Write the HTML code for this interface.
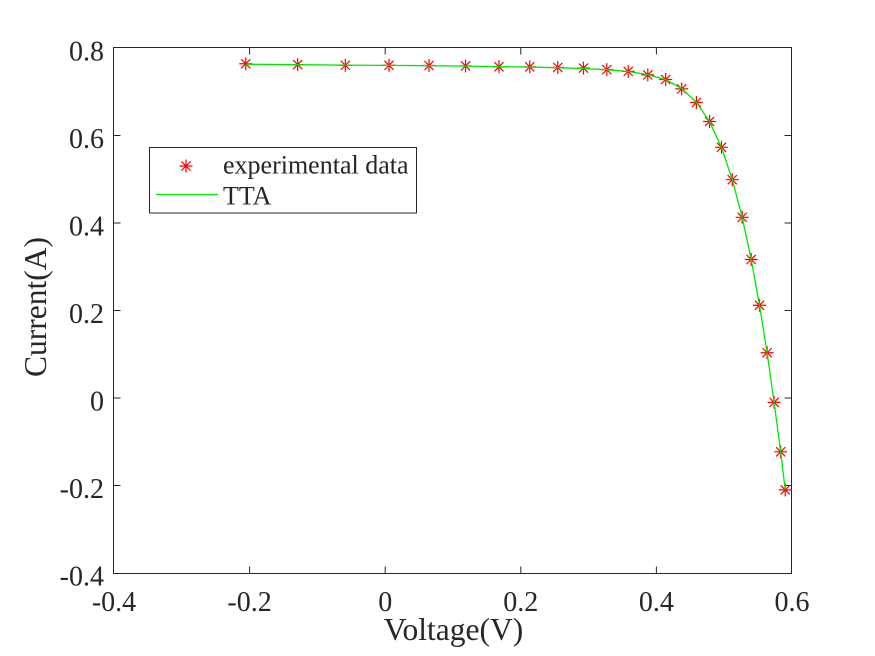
<!DOCTYPE html>
<html>
<head>
<meta charset="utf-8">
<style>
html,body{margin:0;padding:0;background:#fff;}
svg{display:block;}
svg text{fill:#262626;}
.t{font-family:"Liberation Serif","DejaVu Serif",serif;}
</style>
</head>
<body>
<svg width="875" height="656" viewBox="0 0 875 656" xmlns="http://www.w3.org/2000/svg">
<defs>
<g id="m" stroke="#ff0000" stroke-width="1.2" fill="none">
<path d="M-6.5,0H6.5M0,-6.5V6.5M-4.6,-4.6L4.6,4.6M-4.6,4.6L4.6,-4.6"/>
</g>
</defs>
<rect x="0" y="0" width="875" height="656" fill="#fff"/>
<rect x="113.5" y="47.5" width="678" height="526" fill="#fff" stroke="#262626" stroke-width="1"/>
<g stroke="#262626" stroke-width="1">
<path d="M249.6,573.5V566.5M385.2,573.5V566.5M520.8,573.5V566.5M656.4,573.5V566.5"/>
<path d="M249.6,47.5V54.5M385.2,47.5V54.5M520.8,47.5V54.5M656.4,47.5V54.5"/>
<path d="M113.5,135.5H120.5M113.5,223H120.5M113.5,310.5H120.5M113.5,398H120.5M113.5,485.5H120.5"/>
<path d="M791.5,135.5H784.5M791.5,223H784.5M791.5,310.5H784.5M791.5,398H784.5M791.5,485.5H784.5"/>
</g>
<g class="t" font-size="28" text-anchor="middle">
<text x="114" y="611">-0.4</text>
<text x="249.6" y="611">-0.2</text>
<text x="385.2" y="611">0</text>
<text x="520.8" y="611">0.2</text>
<text x="656.4" y="611">0.4</text>
<text x="792" y="611">0.6</text>
</g>
<g class="t" font-size="28" text-anchor="end">
<text x="104" y="60.5">0.8</text>
<text x="104" y="148">0.6</text>
<text x="104" y="235.5">0.4</text>
<text x="104" y="323">0.2</text>
<text x="104" y="410.5">0</text>
<text x="104" y="498">-0.2</text>
<text x="104" y="585.5">-0.4</text>
</g>
<text class="t" x="453.5" y="640" font-size="31.5" text-anchor="middle">Voltage(V)</text>
<text class="t" transform="translate(46,307) rotate(-90)" font-size="31.5" text-anchor="middle">Current(A)</text>
<use href="#m" x="245.74" y="63.75"/>
<use href="#m" x="297.67" y="64.63"/>
<use href="#m" x="345.33" y="65.28"/>
<use href="#m" x="389.06" y="65.28"/>
<use href="#m" x="429.00" y="65.5"/>
<use href="#m" x="465.54" y="65.94"/>
<use href="#m" x="498.97" y="66.81"/>
<use href="#m" x="529.75" y="66.81"/>
<use href="#m" x="557.75" y="67.47"/>
<use href="#m" x="583.45" y="68.13"/>
<use href="#m" x="606.84" y="69.66"/>
<use href="#m" x="628.26" y="71.41"/>
<use href="#m" x="647.79" y="74.91"/>
<use href="#m" x="665.69" y="79.5"/>
<use href="#m" x="681.69" y="88.91"/>
<use href="#m" x="696.40" y="102.47"/>
<use href="#m" x="709.56" y="121.5"/>
<use href="#m" x="721.49" y="147.31"/>
<use href="#m" x="732.27" y="179.69"/>
<use href="#m" x="742.17" y="217.31"/>
<use href="#m" x="751.18" y="259.53"/>
<use href="#m" x="759.52" y="305.25"/>
<use href="#m" x="767.12" y="352.72"/>
<use href="#m" x="774.10" y="402.38"/>
<use href="#m" x="780.68" y="451.81"/>
<use href="#m" x="785.22" y="489.88"/>
<polyline fill="none" stroke="#00e600" stroke-width="1.3" stroke-linejoin="round"
points="245.74,64.2 297.67,64.7 345.33,65.1 389.06,65.4 429.00,65.7 465.54,66.1 498.97,66.6 529.75,67.1 557.75,67.7 583.45,68.5 606.84,69.7 628.26,71.5 647.79,74.6 665.69,79.6 681.69,88.5 696.40,102.3 709.56,121.6 721.49,147.4 732.27,179.6 742.17,217.3 751.18,259.5 759.52,305.3 767.12,352.8 774.10,402.3 780.68,451.8 785.22,489.9"/>
<rect x="149.5" y="147.5" width="267" height="65.5" fill="#fff" stroke="#262626" stroke-width="1"/>
<use href="#m" x="186" y="166"/>
<line x1="156" y1="194.5" x2="218" y2="194.5" stroke="#00e600" stroke-width="1.3"/>
<g class="t" font-size="26">
<text x="223" y="173.5">experimental data</text>
<text x="223" y="204.5">TTA</text>
</g>
</svg>
</body>
</html>
